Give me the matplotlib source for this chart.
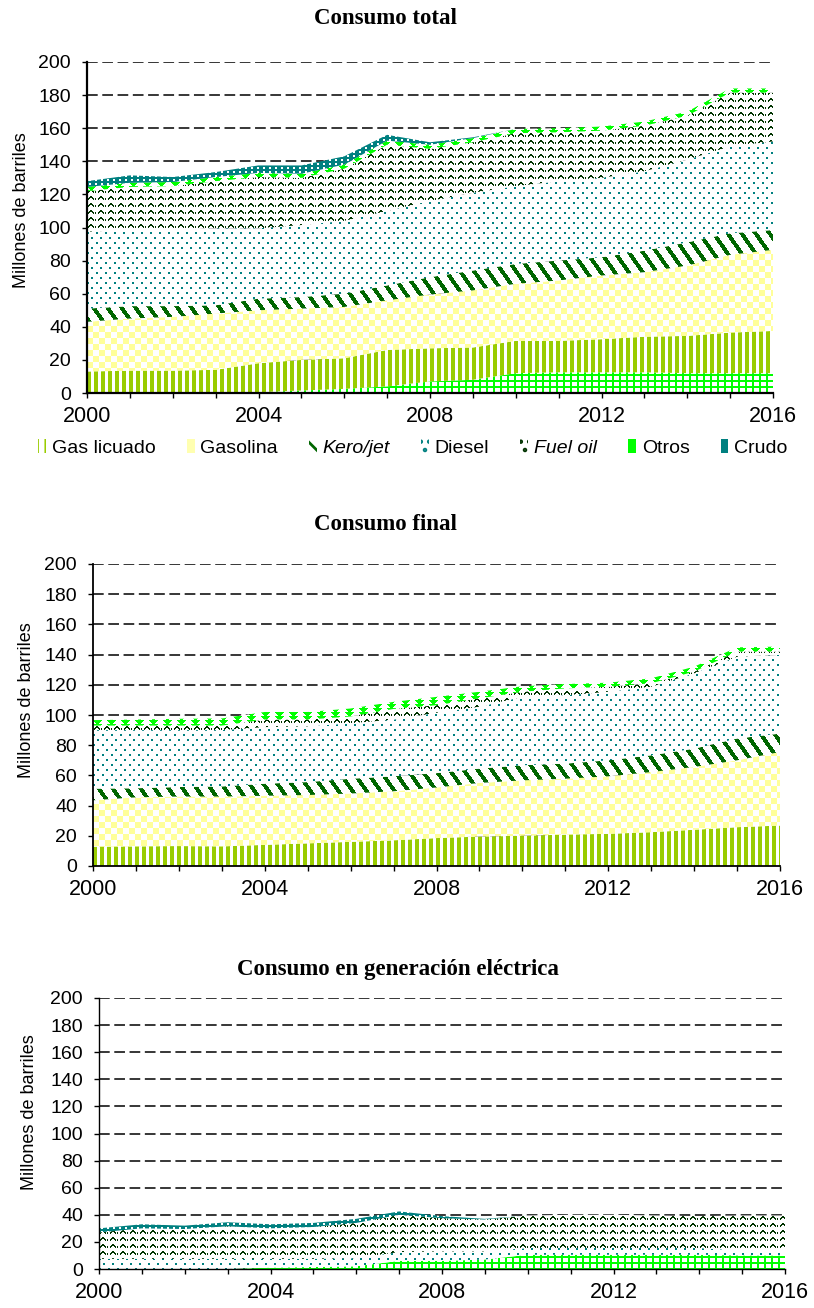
import numpy as np
import matplotlib.pyplot as plt
from matplotlib.colors import to_rgb
from matplotlib.patches import Patch

years = np.arange(2000, 2017)

# Consumo total (millones de barriles), por capa, de abajo hacia arriba
tot_rejilla = [0, 0, 0, 0, 0.5, 1.5, 2.5, 4, 7, 8, 12, 12.5, 12.5, 12.5, 12, 12, 12]
tot_gas_licuado = [13, 13.5, 13.5, 14, 17.5, 18.5, 18.5, 22, 20, 19.5, 19.5, 19, 20, 21.5, 22.5, 24.5, 25.5]
tot_gasolina = [30, 31.5, 32.5, 34, 32, 31, 31, 30, 32.5, 34.5, 34.5, 36.5, 38.5, 39, 42.5, 47, 49]
tot_kero = [8, 7.5, 6.5, 5, 7, 7, 8, 9, 10.5, 12, 12, 12, 11, 13, 14, 13, 12]
tot_diesel = [46.5, 46, 46, 46.5, 42.5, 43.5, 44, 45, 46, 47, 47, 48, 48, 48, 50, 52.5, 53.5]
tot_fuel = [24.5, 26, 26.5, 28.5, 31, 28.5, 31.5, 40, 31.5, 30.5, 32, 29.5, 28.5, 27.5, 26.5, 32.5, 29.5]
tot_otros = [2.5, 2.5, 2.5, 2.5, 2.5, 2.5, 2.5, 2.5, 2.5, 2.5, 2.5, 2.5, 2.5, 2.5, 2.5, 2.5, 2.5]
tot_crudo = [3.5, 4.5, 3, 3, 4.5, 5, 5, 3.5, 1.5, 0.5, 0, 0, 0, 0, 0, 0, 0]

# Consumo final
fin_gas_licuado = [12.8, 13, 13.2, 13, 14, 15, 16, 17, 18.5, 19.5, 20, 20.8, 21.3, 22.4, 24, 25.7, 26.8]
fin_gasolina = [30.7, 32.5, 32.8, 33, 32.5, 32, 32, 32.5, 33.5, 35.5, 36.7, 37, 38.1, 39.8, 41.6, 44.3, 48.7]
fin_kero = [7.7, 6, 6.3, 6.7, 8, 8.6, 9.8, 9.9, 9.5, 9.5, 10, 10, 10.6, 11.1, 12.1, 14.4, 12.2]
fin_diesel = [38.8, 38.5, 37.7, 37.3, 37.5, 36.9, 36.7, 37.6, 40, 41, 45.3, 45.2, 45.4, 45.4, 49.9, 54.2, 52.1]
fin_fuel = [3, 3, 3, 3, 5, 4.5, 4.5, 7, 5, 5.5, 3.4, 4.6, 3.3, 2.3, 1.1, 3.4, 2.2]
fin_otros = [3.6, 4, 4.5, 4.7, 5, 5, 5.3, 4.7, 5.5, 4.4, 3.6, 2.9, 2.7, 3.3, 3.3, 2.8, 3.3]

# Consumo en generacion electrica
gen_rejilla = [0, 0, 0, 0, 1, 1.5, 2, 6, 6, 7, 10.5, 10.5, 10.5, 10.5, 10.5, 10, 10]
gen_diesel = [7.5, 7.5, 7.5, 7.5, 6.5, 6, 6, 6.5, 7, 6, 5, 5, 5, 5, 5, 3.5, 3.5]
gen_fuel = [19.5, 22.5, 22, 24, 22.5, 23.5, 26, 27.5, 24.5, 23.5, 24, 24.5, 24.5, 24, 23.5, 26, 26]
gen_crudo = [3, 3, 2.5, 3, 3, 3, 3, 2.5, 1.5, 0.5, 0, 0, 0, 0, 0, 0, 0]

W, H = 814, 1308
plt.rcParams['font.family'] = ['Liberation Sans', 'DejaVu Sans']
plt.rcParams['hatch.linewidth'] = 2.0
fig = plt.figure(figsize=(W / 100, H / 100), dpi=100)


def pattern(kind, h, w):
    rr, cc = np.indices((h, w))
    if kind == 'rejilla':
        return (cc % 7 < 2) | (rr % 6 < 2)
    if kind == 'barras':
        return cc % 7 < 4
    if kind == 'cuadros':
        return ((cc // 6) + (rr // 6)) % 2 == 0
    if kind == 'diagonal':
        return (cc - 0.7 * rr) % 14 < 5
    if kind == 'puntos':
        return ((rr % 10 < 2) & (cc % 9 < 2)) | (((rr - 5) % 10 < 2) & ((cc - 4) % 9 < 2))
    if kind == 'ondas':
        wave = np.array([-5, 3, 2, 1, 1, 2, 3, -5, 3, -5])
        r = rr % 7
        y = wave[cc % 10]
        return (r == y) | (r == y + 1)
    if kind == 'triangulos':
        r = rr % 4
        c = cc % 14
        return (c >= r) & (c <= 8 - r)
    if kind == 'crudo':
        return ~(((rr % 4 == 1) | (rr % 4 == 2)) & ((cc % 6 == 2) | (cc % 6 == 3)))


def stack(ax, box, layers):
    l, t, r, b = box
    h, w = b - t, r - l
    base = np.zeros(len(years))
    for values, kind, color in layers:
        top = base + np.array(values)
        poly = ax.fill_between(years, base, top, facecolor='none', edgecolor='none', lw=0)
        img = np.ones((h, w, 3))
        img[pattern(kind, h, w)] = to_rgb(color)
        im = ax.imshow(img, extent=(2000, 2016, 0, 200), aspect='auto',
                       interpolation='nearest', zorder=1)
        im.set_clip_path(poly.get_paths()[0], transform=ax.transData)
        base = top
    ax.set_xlim(2000, 2016)
    ax.set_ylim(0, 200)


def make_axes(box, spine_w):
    l, t, r, b = box
    ax = fig.add_axes([l / W, 1 - b / H, (r - l) / W, (b - t) / H])
    ax.set_xlim(2000, 2016)
    ax.set_ylim(0, 200)
    ax.set_xticks([2000, 2004, 2008, 2012, 2016])
    ax.set_xticks(years, minor=True)
    ax.set_yticks(range(0, 201, 20))
    ax.set_axisbelow(True)
    ax.grid(axis='y', color='black', lw=1.1, linestyle=(0, (7, 3)))
    ax.spines[['top', 'right']].set_visible(False)
    ax.spines[['left', 'bottom']].set_linewidth(spine_w)
    ax.tick_params(axis='both', which='both', direction='out', length=3.6, width=1)
    ax.tick_params(axis='x', labelsize=15.5, pad=6)
    ax.tick_params(axis='y', labelsize=14, pad=8)
    return ax


COL = {'verde': '#00ff00', 'gl': '#99cc00', 'gasolina': '#ffff99', 'kero': '#006600',
       'diesel': '#008080', 'fuel': '#003300', 'crudo': '#008080'}

# Consumo total
box1 = (87, 62, 773, 393)
ax1 = make_axes(box1, 1.6)
stack(ax1, box1, [
    (tot_rejilla, 'rejilla', COL['verde']),
    (tot_gas_licuado, 'barras', COL['gl']),
    (tot_gasolina, 'cuadros', COL['gasolina']),
    (tot_kero, 'diagonal', COL['kero']),
    (tot_diesel, 'puntos', COL['diesel']),
    (tot_fuel, 'ondas', COL['fuel']),
    (tot_otros, 'triangulos', COL['verde']),
    (tot_crudo, 'crudo', COL['crudo']),
])

# Consumo final
box2 = (93, 564, 780, 866)
ax2 = make_axes(box2, 1.3)
stack(ax2, box2, [
    (fin_gas_licuado, 'barras', COL['gl']),
    (fin_gasolina, 'cuadros', COL['gasolina']),
    (fin_kero, 'diagonal', COL['kero']),
    (fin_diesel, 'puntos', COL['diesel']),
    (fin_fuel, 'ondas', COL['fuel']),
    (fin_otros, 'triangulos', COL['verde']),
])

# Consumo en generacion electrica
box3 = (99, 998, 785, 1269)
ax3 = make_axes(box3, 1.0)
stack(ax3, box3, [
    (gen_rejilla, 'rejilla', COL['verde']),
    (gen_diesel, 'puntos', COL['diesel']),
    (gen_fuel, 'ondas', COL['fuel']),
    (gen_crudo, 'crudo', COL['crudo']),
])

serif = ['Liberation Serif', 'DejaVu Serif']
fig.text(385 / W, 1 - 18 / H, 'Consumo total', ha='center', va='center',
         fontsize=16.5, fontweight='bold', family=serif)
fig.text(385 / W, 1 - 525 / H, 'Consumo final', ha='center', va='center',
         fontsize=16.5, fontweight='bold', family=serif)
fig.text(398 / W, 1 - 970 / H, 'Consumo en generación eléctrica', ha='center', va='center',
         fontsize=16.5, fontweight='bold', family=serif)

for x, y in [(22, 210), (27, 700), (29, 1112)]:
    fig.text(x / W, 1 - y / H, 'Millones de barriles', rotation=90,
             ha='center', va='center', fontsize=13)

handles = [
    Patch(facecolor='white', edgecolor=COL['gl'], hatch='||', lw=0, label='Gas licuado'),
    Patch(facecolor='#ffffb0', lw=0, label='Gasolina'),
    Patch(facecolor='white', edgecolor=COL['kero'], hatch='\\\\', lw=0, label='Kero/jet'),
    Patch(facecolor='white', edgecolor=COL['diesel'], hatch='..', lw=0, label='Diesel'),
    Patch(facecolor='white', edgecolor=COL['fuel'], hatch='..', lw=0, label='Fuel oil'),
    Patch(facecolor=COL['verde'], lw=0, label='Otros'),
    Patch(facecolor=COL['crudo'], lw=0, label='Crudo'),
]
leg = fig.legend(handles=handles, ncol=7, loc='center', bbox_to_anchor=(413 / W, 1 - 448 / H),
                 frameon=False, fontsize=14, handlelength=0.4, handleheight=0.7,
                 handletextpad=0.3, columnspacing=1.6, borderaxespad=0)
leg.get_texts()[2].set_style('italic')
leg.get_texts()[4].set_style('italic')

fig.savefig('out.png', dpi=100)
